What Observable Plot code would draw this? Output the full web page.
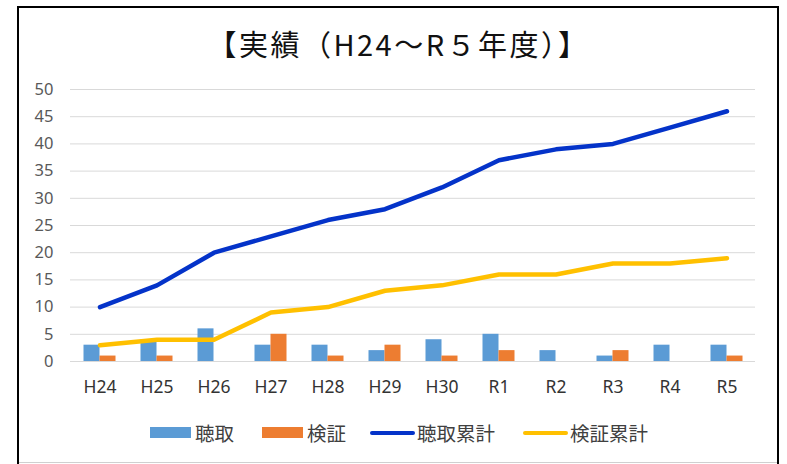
<!DOCTYPE html>
<html>
<head>
<meta charset="utf-8">
<script src="https://cdn.jsdelivr.net/npm/d3@7"></script>
<script src="https://cdn.jsdelivr.net/npm/@observablehq/plot@0.6"></script>
<style>
  html, body { margin: 0; padding: 0; background: #fff; }
  #wrap { position: relative; width: 787px; height: 464px; overflow: hidden; background: #fff; }
  #frame { position: absolute; left: 17px; top: 6px; width: 758px; height: 480px; border: 2px solid #000; box-sizing: content-box; }
  #bottomline { position: absolute; left: 19px; top: 462px; width: 758px; height: 1px; background: #d0d0d0; }
  #title { position: absolute; left: 0; width: 787px; top: 23px; text-align: center; font-family: "Noto Sans CJK JP", sans-serif; font-size: 29px; line-height: 40px; color: #111; letter-spacing: 2.5px; padding-left: 10px; box-sizing: border-box; }
  #chart { position: absolute; left: 0; top: 0; }
  #legend { position: absolute; left: 0; top: 419px; width: 787px; height: 28px; font-family: "Noto Sans CJK JP", sans-serif; font-size: 19.5px; color: #404040; }
  .item { position: absolute; top: 0; height: 28px; line-height: 28px; white-space: nowrap; }
  .sw { position: absolute; }
</style>
</head>
<body>
<div id="wrap">
  <div id="frame"></div>
  <div id="bottomline"></div>
  <div id="title">【実績（H24～R５年度）】</div>
  <div id="chart"></div>
  <div id="legend"></div>
</div>
<script>
const categories = ["H24","H25","H26","H27","H28","H29","H30","R1","R2","R3","R4","R5"];
const choshu = [3, 4, 6, 3, 3, 2, 4, 5, 2, 1, 3, 3];
const kensho = [1, 1, 0, 5, 1, 3, 1, 2, 0, 2, 0, 1];
const choshuTotal = [10, 14, 20, 23, 26, 28, 32, 37, 39, 40, 43, 46];
const kenshoTotal = [3, 4, 4, 9, 10, 13, 14, 16, 16, 18, 18, 19];
const yTicks = [0, 5, 10, 15, 20, 25, 30, 35, 40, 45, 50];
const seriesNames = ["聴取", "検証", "聴取累計", "検証累計"];
const colors = ["#5B9BD5", "#ED7D31", "#0433C9", "#FFC000"];

const rows = categories.map((c, i) => ({
  cat: c, a: choshu[i], b: kensho[i], at: choshuTotal[i], bt: kenshoTotal[i]
}));

const chart = Plot.plot({
  width: 787,
  height: 400,
  marginLeft: 70,
  marginRight: 32,
  marginTop: 89,
  marginBottom: 39,
  style: { fontFamily: "'Noto Sans', sans-serif", background: "transparent", overflow: "visible" },
  x: { domain: categories, padding: 0, label: null },
  y: { domain: [0, 50], label: null },
  marks: [
    Plot.gridY(yTicks, { stroke: "#d9d9d9", strokeOpacity: 1, strokeWidth: 1 }),
    Plot.axisY(yTicks, { tickSize: 0, tickPadding: 17, fontSize: 16.5, fill: "#595959", label: null }),
    Plot.axisX({ tickSize: 0, tickPadding: 19, fontSize: 17.5, fill: "#333333", label: null }),
    Plot.barY(rows, { x: "cat", y: "a", fill: colors[0], insetLeft: 20.5, insetRight: 20.5, dx: -8 }),
    Plot.barY(rows, { x: "cat", y: "b", fill: colors[1], insetLeft: 20.5, insetRight: 20.5, dx: 8 }),
    Plot.line(rows, { x: "cat", y: "at", stroke: colors[2], strokeWidth: 4.5, strokeLinecap: "round", strokeLinejoin: "round" }),
    Plot.line(rows, { x: "cat", y: "bt", stroke: colors[3], strokeWidth: 4.5, strokeLinecap: "round", strokeLinejoin: "round" })
  ]
});
document.getElementById("chart").appendChild(chart);

// legend
const legend = document.getElementById("legend");
const items = [
  { name: seriesNames[0], color: colors[0], type: "rect", x: 150 },
  { name: seriesNames[1], color: colors[1], type: "rect", x: 262 },
  { name: seriesNames[2], color: colors[2], type: "line", x: 370 },
  { name: seriesNames[3], color: colors[3], type: "line", x: 523 }
];
items.forEach(it => {
  const d = document.createElement("div");
  d.className = "item";
  d.style.left = it.x + "px";
  const sw = document.createElement("span");
  sw.className = "sw";
  if (it.type === "rect") {
    sw.style.cssText = `left:0;top:8px;width:41px;height:11px;background:${it.color};`;
  } else {
    sw.style.cssText = `left:0;top:11.5px;width:45px;height:4px;border-radius:2px;background:${it.color};`;
  }
  d.appendChild(sw);
  const t = document.createElement("span");
  t.textContent = it.name;
  t.style.marginLeft = (it.type === "rect" ? 45 : 47) + "px";
  d.appendChild(t);
  legend.appendChild(d);
});
</script>
</body>
</html>
